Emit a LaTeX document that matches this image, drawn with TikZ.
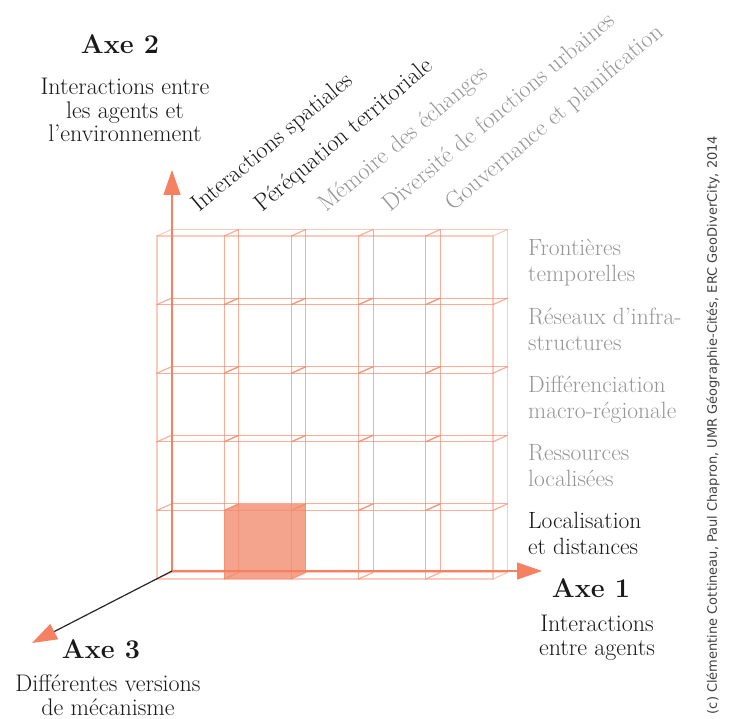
\documentclass[tikz,border=0pt]{standalone}
\usepackage{fontspec}
\newfontfamily\djv{DejaVu Sans}
\usetikzlibrary{arrows.meta}
\definecolor{cubecol}{RGB}{247,140,110}
\definecolor{fillcol}{RGB}{244,163,140}
\definecolor{arrowcol}{RGB}{246,128,98}
\definecolor{graytxt}{RGB}{150,150,150}
\definecolor{blacktxt}{RGB}{25,25,25}
\tikzset{
  cubeline/.style={draw=cubecol, draw opacity=0.45, line width=1.1pt},
  axisline/.style={draw=arrowcol, line width=1.3pt, -{Triangle[length=25pt,width=17pt,color=arrowcol]}},
  axisdark/.style={draw=black!85, line width=1.2pt, -{Triangle[length=25pt,width=17pt,color=arrowcol]}},
  collab/.style={anchor=base west, rotate=40, inner sep=0pt, font=\fontsize{24}{27}\selectfont},
  rowlab/.style={anchor=base west, align=left, inner sep=0pt, font=\fontsize{23.5}{26}\selectfont},
  axetitle/.style={anchor=base, inner sep=0pt, font=\fontsize{27}{30}\selectfont\bfseries, text=blacktxt},
  axedesc/.style={anchor=base, align=center, inner sep=0pt, font=\fontsize{24}{23.5}\selectfont, text=blacktxt}
}
\begin{document}
\begin{tikzpicture}[x=1pt,y=-1pt]
\useasboundingbox (0,0) rectangle (731,719);
\fill[white] (0,0) rectangle (731,719);
% filled cube
\fill[fillcol] (224.2,579) -- (224.2,510.4) -- (238.7,503.9) -- (305.9,503.9) -- (305.9,572.5) -- (291.4,579) -- cycle;
% wireframe cubes
\foreach \c in {0,...,4}{
  \foreach \r in {0,...,4}{
    \pgfmathsetmacro{\xa}{157+67.2*\c}
    \pgfmathsetmacro{\xb}{\xa+67.2}
    \pgfmathsetmacro{\ya}{236+68.6*\r}
    \pgfmathsetmacro{\yb}{\ya+68.6}
    \draw[cubeline] (\xa,\ya) rectangle (\xb,\yb);
    \draw[cubeline] (\xa+14.5,\ya-6.5) rectangle (\xb+14.5,\yb-6.5);
    \draw[cubeline] (\xa,\ya) -- ++(14.5,-6.5);
    \draw[cubeline] (\xb,\ya) -- ++(14.5,-6.5);
    \draw[cubeline] (\xa,\yb) -- ++(14.5,-6.5);
    \draw[cubeline] (\xb,\yb) -- ++(14.5,-6.5);
  }
}
% axes
\coordinate (origin) at (172,571);
\coordinate (tip1) at (542,571);
\coordinate (tip2) at (172,170);
\coordinate (tip3) at (32,643);
\draw[axisline] (origin) -- (tip1);
\draw[axisline] (origin) -- (tip2);
\draw[axisdark] (origin) -- (tip3);
% column labels
\node[collab, text=blacktxt] (c1) at (199,213) {Interactions spatiales};
\node[collab, text=blacktxt] (c2) at (262,213) {Péréquation territoriale};
\node[collab, text=graytxt] (c3) at (326,213) {Mémoire des échanges};
\node[collab, text=graytxt] (c4) at (390,213) {Diversité de fonctions urbaines};
\node[collab, text=graytxt] (c5) at (453,212) {Gouvernance et planification};
% row labels (base = last line)
\node[rowlab, text=graytxt] (r1) at (528,282) {Frontières\\temporelles};
\node[rowlab, text=graytxt] (r2) at (528,350) {Réseaux d'infra-\\structures};
\node[rowlab, text=graytxt] (r3) at (528,418) {Différenciation\\macro-régionale};
\node[rowlab, text=graytxt] (r4) at (528,486) {Ressources\\localisées};
\node[rowlab, text=blacktxt] (r5) at (528,554) {Localisation\\et distances};
% axis titles
\node[axetitle] (ax2) at (120,54) {Axe 2};
\node[axedesc] (ax2d) at (125,142) {Interactions entre\\les agents et\\l'environnement};
\node[axetitle] (ax1) at (591,597) {Axe 1};
\node[axedesc] (ax1d) at (597,655) {Interactions\\entre agents};
\node[axetitle] (ax3) at (101,658) {Axe 3};
\node[axedesc] (ax3d) at (108,715) {Différentes versions\\de mécanisme};
% copyright
\node[rotate=90, inner sep=0pt, text=black!75, font=\djv\fontsize{13}{15}\selectfont] (copy) at (713,425) {(c) Clémentine Cottineau, Paul Chapron, UMR Géographie-Cités, ERC GeoDiverCity, 2014};
\end{tikzpicture}
\end{document}
